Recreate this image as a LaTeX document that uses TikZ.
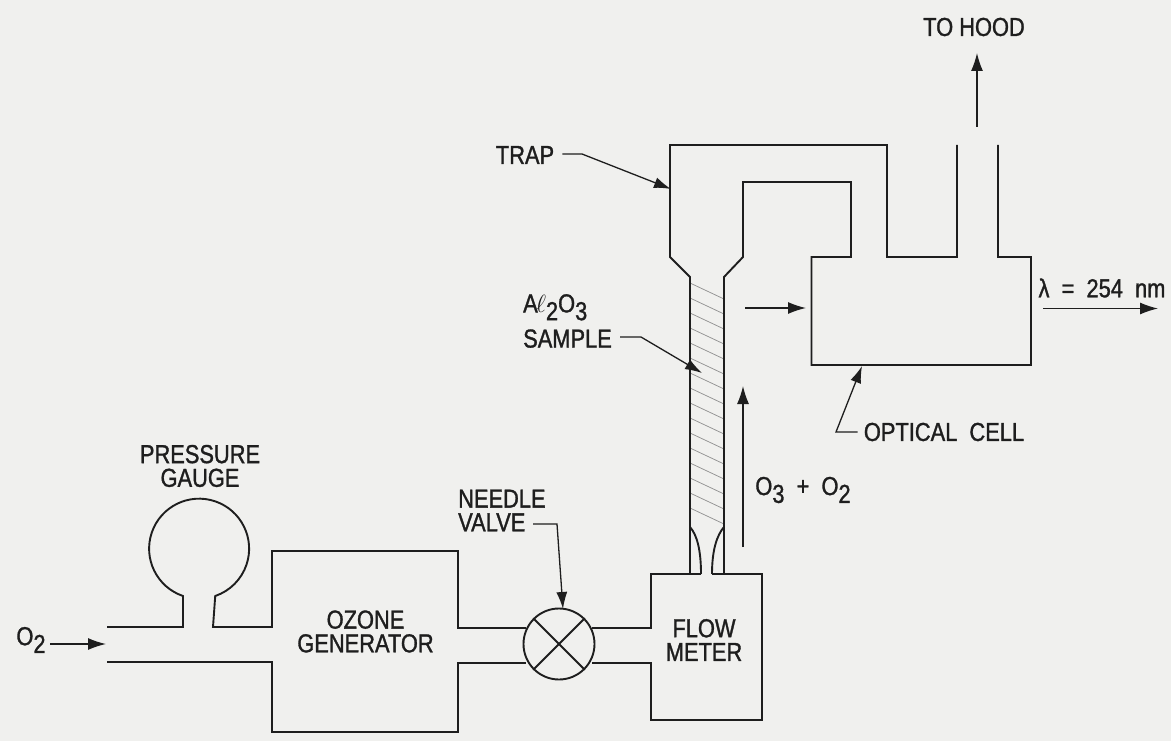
\documentclass[tikz,border=0pt]{standalone}
\usepackage{fontspec}
\setmainfont[FakeStretch=0.84,FakeBold=1.2]{Liberation Sans}
\usetikzlibrary{arrows.meta}
\definecolor{paper}{RGB}{240,240,238}
\definecolor{ink}{RGB}{30,30,30}
\newcommand{\sbs}[1]{\raisebox{-0.3em}{#1}}
\tikzset{
  pipe/.style={draw=ink,line width=1.9pt,line join=miter},
  hatch/.style={draw=ink!50,line width=0.7pt},
  flowarrow/.style={draw=ink,line width=1.3pt,-{Latex[length=18pt,width=12pt]}},
  leader/.style={draw=ink,line width=1.3pt,-{Latex[length=17pt,width=11pt]}},
  lab/.style={inner sep=0pt,text=ink,font=\fontsize{26}{23.7}\selectfont,align=center}
}
\begin{document}
\begin{tikzpicture}[x=1pt,y=-1pt]
\useasboundingbox (0,0) rectangle (1171,741);
\fill[paper] (0,0) rectangle (1171,741);
% hatching
\foreach \y in {283,298,...,508}{\draw[hatch] (690,\y) -- (724,\y+16);}
% valve
\node[circle,draw=ink,line width=1.9pt,minimum size=71pt,inner sep=0pt] (valve) at (559,644) {};
\draw[pipe] (valve.45) -- (valve.225);
\draw[pipe] (valve.135) -- (valve.315);
% gauge and inlet
\draw[pipe] (107,627) -- (183,627) -- (183,596) arc[start angle=251.2,delta angle=-322.4,radius=50pt] -- (213,627) -- (272,627) -- (272,551) -- (458,551) -- (458,628) -- (526,628);
\draw[pipe] (107,662) -- (272,662) -- (272,732) -- (458,732) -- (458,663) -- (526,663);
\draw[pipe] (592,628) -- (651,628) -- (651,574) -- (701,574);
\draw[pipe] (592,663) -- (651,663) -- (651,720) -- (762,720) -- (762,574) -- (712,574);
% column, trap and optical cell
\draw[pipe] (690,574) -- (690,277) -- (670,257) -- (670,145) -- (887,145) -- (887,257) -- (957,257) -- (957,145);
\draw[pipe] (998,145) -- (998,257) -- (1031,257) -- (1031,365) -- (811.5,365) -- (811.5,257) -- (851,257) -- (851,182) -- (743,182) -- (743,257) -- (724,277) -- (724,574);
\draw[pipe] (690,527) .. controls (697,535) and (701,550) .. (701,574);
\draw[pipe] (724,527) .. controls (717,535) and (712,550) .. (712,574);
% labels
\node[lab] (hood) at (974,27) {TO HOOD};
\node[lab,align=left,anchor=west] (sample) at (523,321) {A\kern-2pt$\ell$\sbs{2}O\sbs{3}\\[8pt]SAMPLE};
\node[lab] (trap) at (525,155) {TRAP};
\node[lab] (lambda) at (1102,288) {λ\ \ =\ \ 254\ \ nm};
\node[lab] (cell) at (944,432) {OPTICAL\ \ CELL};
\node[lab] (o3o2) at (803,490) {O\sbs{3}\ \ +\ \ O\sbs{2}};
\node[lab] (gaugelab) at (200,466) {PRESSURE\\GAUGE};
\node[lab,align=left,anchor=west] (needle) at (458,510.5) {NEEDLE\\VALVE};
\node[lab] (ozone) at (365.5,631.5) {OZONE\\GENERATOR};
\node[lab] (flow) at (704,640) {FLOW\\METER};
\node[lab] (otwo) at (31,640) {O\sbs{2}};
% free ends
\coordinate (hoodS) at (977,127); \coordinate (hoodT) at (977,53);
\coordinate (trapE) at (582,154); \coordinate (trapT) at (671,189);
\coordinate (samS) at (620,337); \coordinate (samE) at (641,337); \coordinate (samT) at (702,373);
\coordinate (cellT) at (862,366); \coordinate (cellE) at (836,432);
\coordinate (vlvS) at (533,524); \coordinate (vlvE) at (557,524); \coordinate (vlvT) at (563,609);
\coordinate (inS) at (50,644); \coordinate (inT) at (106,644);
\coordinate (upS) at (743,547); \coordinate (upT) at (743,386);
\coordinate (cellS) at (745,308); \coordinate (cellI) at (806,308);
\coordinate (lamS) at (1043,308.5); \coordinate (lamT) at (1158,308.5);
% connectors
\draw[flowarrow] (hoodS) -- (hoodT);
\draw[flowarrow] (inS) -- (inT);
\draw[flowarrow] (upS) -- (upT);
\draw[flowarrow] (cellS) -- (cellI);
\draw[flowarrow] (lamS) -- (lamT);
\draw[leader] (trap.east)++(8,-1) -- (trapE) -- (trapT);
\draw[leader] (samS) -- (samE) -- (samT);
\draw[leader] (cell.west)++(-6,0) -- (cellE) -- (cellT);
\draw[leader] (vlvS) -- (vlvE) -- (vlvT);
\end{tikzpicture}
\end{document}
